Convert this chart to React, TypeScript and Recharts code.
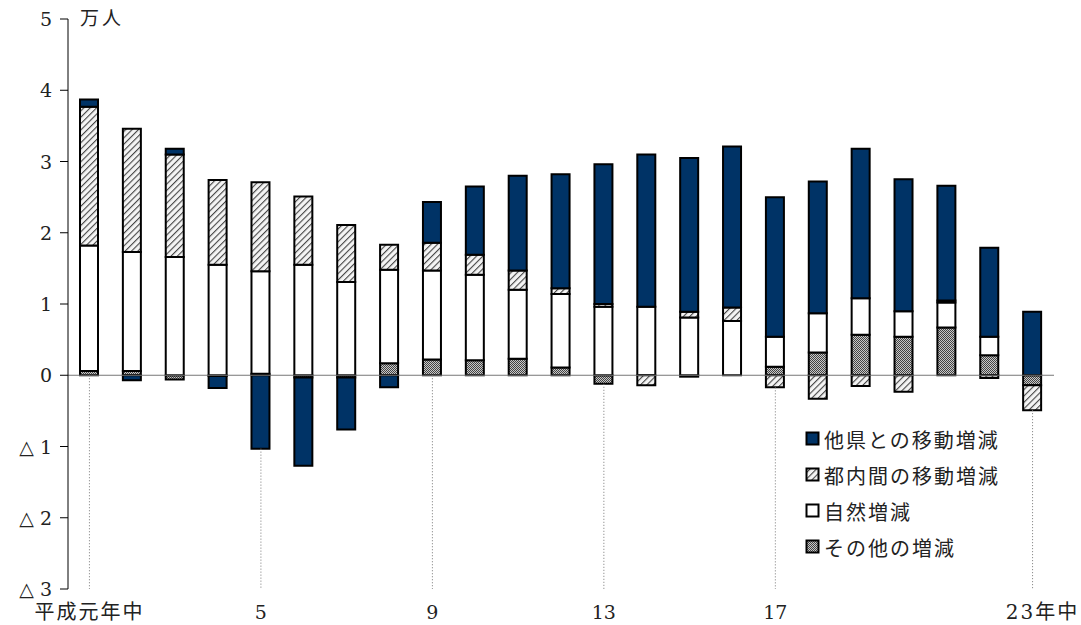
import { Bar, BarChart, Legend, ReferenceLine, XAxis, YAxis } from "recharts";

// 年次（平成元年〜23年）
const years = [
  "平成元年中", "2", "3", "4", "5", "6", "7", "8", "9", "10", "11", "12",
  "13", "14", "15", "16", "17", "18", "19", "20", "21", "22", "23年中",
];
const tickYears = ["平成元年中", "5", "9", "13", "17", "23年中"];
const yTicks = [-3, -2, -1, 0, 1, 2, 3, 4, 5];

// 万人
const otherPref = [
  0.1, -0.07, 0.08, -0.17, -1.03, -1.24, -0.73, -0.17, 0.57, 0.96, 1.33, 1.6,
  1.96, 2.14, 2.16, 2.26, 1.96, 1.85, 2.1, 1.85, 1.61, 1.25, 0.89,
];
const intraTokyo = [
  1.95, 1.73, 1.44, 1.19, 1.25, 0.96, 0.8, 0.35, 0.39, 0.28, 0.27, 0.08,
  0.04, -0.14, 0.08, 0.19, -0.17, -0.33, -0.15, -0.23, 0.03, -0.04, -0.35,
];
const natural = [
  1.76, 1.67, 1.66, 1.55, 1.44, 1.55, 1.31, 1.31, 1.25, 1.2, 0.97, 1.03,
  0.96, 0.96, 0.81, 0.76, 0.42, 0.55, 0.51, 0.36, 0.35, 0.26, 0,
];
const others = [
  0.06, 0.06, -0.06, -0.01, 0.02, -0.03, -0.03, 0.17, 0.22, 0.21, 0.23, 0.11,
  -0.12, 0, -0.02, 0, 0.12, 0.32, 0.57, 0.54, 0.67, 0.28, -0.14,
];

const legendItems = [
  { name: "他県との移動増減", fill: "#003366" },
  { name: "都内間の移動増減", fill: "url(#hatch)" },
  { name: "自然増減", fill: "#ffffff" },
  { name: "その他の増減", fill: "url(#dots)" },
];

const data = years.map((year, i) => ({
  year,
  others: others[i],
  natural: natural[i],
  intra: intraTokyo[i],
  otherPref: otherPref[i],
}));

// bottom of each bar (sum of the negative parts), used for the dotted drop lines
const bottomOf = (year: string) => {
  const i = years.indexOf(year);
  return [others[i], natural[i], intraTokyo[i], otherPref[i]]
    .filter((v) => v < 0)
    .reduce((a, b) => a + b, 0);
};

const serif = "'DejaVu Serif', 'Noto Sans CJK JP', serif";
const jp = "'Noto Sans CJK JP', sans-serif";

function YTick({ x, y, payload }: any) {
  const v = payload.value as number;
  return (
    <text
      x={x + 2}
      y={y}
      dy={7}
      textAnchor="end"
      fontFamily={serif}
      fontSize={19}
      fill="#222"
    >
      {v < 0 ? `△ ${-v}` : `${v}`}
    </text>
  );
}

function XTick({ x, y, payload }: any) {
  const last = payload.value === years[years.length - 1];
  const cjk = /[^0-9]/.test(payload.value);
  return (
    <text
      x={x + (last ? 10 : 0)}
      y={y}
      dy={22}
      textAnchor="middle"
      fontFamily={serif}
      fontSize={cjk ? 20 : 19}
      letterSpacing={cjk ? 2 : 0}
      fill="#222"
    >
      {payload.value}
    </text>
  );
}

function LegendBox() {
  return (
    <div style={{ fontFamily: jp, fontSize: 20, color: "#222" }}>
      {legendItems.map((it) => (
        <div
          key={it.name}
          style={{ display: "flex", alignItems: "center", height: 36 }}
        >
          <svg width={16} height={16} style={{ marginRight: 3 }}>
            <rect
              x={1.5}
              y={1.5}
              width={12}
              height={12}
              fill={it.fill}
              stroke="#000"
              strokeWidth={2}
            />
          </svg>
          <span style={{ letterSpacing: 2 }}>{it.name}</span>
        </div>
      ))}
    </div>
  );
}

export default function App() {
  return (
    <div style={{ position: "absolute", left: 0, top: 0 }}>
      <BarChart
        width={1081}
        height={625}
        data={data}
        stackOffset="sign"
        barSize={18}
        margin={{ top: 19, right: 27, bottom: 0, left: 0 }}
      >
        <defs>
          <pattern
            id="hatch"
            width="4.5"
            height="4.5"
            patternUnits="userSpaceOnUse"
            patternTransform="rotate(45)"
          >
            <rect width="4.5" height="4.5" fill="#f4f4f4" />
            <line x1="0" y1="0" x2="0" y2="4.5" stroke="#444" strokeWidth="2.2" />
          </pattern>
          <pattern id="dots" width="2" height="2" patternUnits="userSpaceOnUse">
            <rect width="2" height="2" fill="#c8c8c8" />
            <rect width="1" height="1" fill="#444" />
            <rect x="1" y="1" width="1" height="1" fill="#444" />
          </pattern>
        </defs>
        <XAxis
          dataKey="year"
          ticks={tickYears}
          interval={0}
          axisLine={false}
          tickLine={false}
          height={36}
          tick={<XTick />}
        />
        <YAxis
          type="number"
          domain={[-3, 5]}
          ticks={yTicks}
          width={68}
          axisLine={{ stroke: "#000" }}
          tickLine={{ stroke: "#000" }}
          tickSize={8}
          tickMargin={10}
          tick={<YTick />}
          label={{
            content: ({ viewBox }: any) => (
              <text
                x={viewBox.x + viewBox.width + 12}
                y={viewBox.y + 6}
                fontFamily={jp}
                fontSize={19}
                letterSpacing={3}
                fill="#222"
              >
                万人
              </text>
            ),
          }}
        />
        <ReferenceLine y={0} stroke="#777" strokeWidth={1} />
        {tickYears.map((y) => (
          <ReferenceLine
            key={y}
            segment={[
              { x: y, y: bottomOf(y) },
              { x: y, y: -3 },
            ]}
            stroke="#777"
            strokeDasharray="1 2"
          />
        ))}
        <Bar
          dataKey="others"
          name="その他の増減"
          stackId="a"
          fill="url(#dots)"
          stroke="#000"
          strokeWidth={2}
          isAnimationActive={false}
        />
        <Bar
          dataKey="natural"
          name="自然増減"
          stackId="a"
          fill="#fff"
          stroke="#000"
          strokeWidth={2}
          isAnimationActive={false}
        />
        <Bar
          dataKey="intra"
          name="都内間の移動増減"
          stackId="a"
          fill="url(#hatch)"
          stroke="#000"
          strokeWidth={2}
          isAnimationActive={false}
        />
        <Bar
          dataKey="otherPref"
          name="他県との移動増減"
          stackId="a"
          fill="#003366"
          stroke="#000"
          strokeWidth={2}
          isAnimationActive={false}
        />
        <Legend
          layout="vertical"
          align="center"
          verticalAlign="middle"
          content={<LegendBox />}
          wrapperStyle={{ left: 805, top: 421, width: "auto" }}
        />
      </BarChart>
    </div>
  );
}
